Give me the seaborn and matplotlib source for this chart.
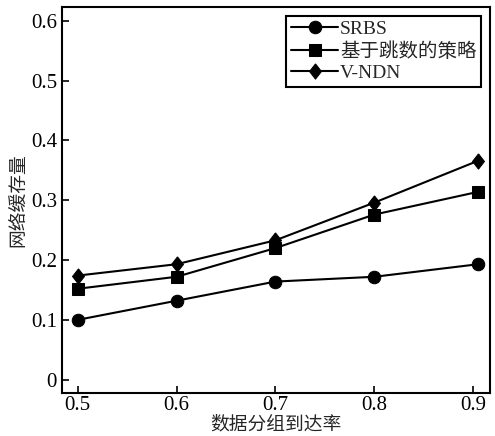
import pandas as pd
import seaborn as sns
import matplotlib.pyplot as plt

# Daten
arrival_rate = [0.5, 0.6, 0.7, 0.8, 0.905]
srbs = [0.100, 0.132, 0.164, 0.172, 0.193]
hop_based = [0.152, 0.172, 0.220, 0.276, 0.314]
v_ndn = [0.174, 0.193, 0.233, 0.296, 0.366]
series_names = ['SRBS', '基于跳数的策略', 'V-NDN']
x_ticks = [0.5, 0.6, 0.7, 0.8, 0.9]
y_ticks = [0, 0.1, 0.2, 0.3, 0.4, 0.5, 0.6]

df = pd.DataFrame({
    'x': arrival_rate * 3,
    'y': srbs + hop_based + v_ndn,
    'series': [n for n in series_names for _ in arrival_rate],
})

sns.set_style('ticks')
plt.rcParams['font.family'] = ['Liberation Serif', 'Noto Sans CJK SC']
plt.rcParams['axes.unicode_minus'] = False

fig = plt.figure(figsize=(4.95, 4.36), dpi=100)
ax = fig.add_axes([0.125, 0.099, 0.865, 0.885])

sns.lineplot(data=df, x='x', y='y', hue='series', style='series',
             palette=['black'] * 3, dashes=False, markers=['o', 's', 'D'],
             markersize=9, linewidth=1.5, markeredgecolor='black', ax=ax)

# Raute etwas hoeher als breit
diamond = [(0, 1), (0.78, 0), (0, -1), (-0.78, 0), (0, 1)]
for line in ax.lines:
    if line.get_marker() == 'D':
        line.set_marker(diamond)
        line.set_markersize(11)

ax.set_xlim(0.484, 0.917)
ax.set_ylim(-0.022, 0.623)
ax.set_xticks(x_ticks)
ax.set_xticklabels(['0.5', '0.6', '0.7', '0.8', '0.9'])
ax.set_yticks(y_ticks)
ax.set_yticklabels(['0', '0.1', '0.2', '0.3', '0.4', '0.5', '0.6'])
ax.tick_params(direction='in', labelsize=15, length=5, width=1.2, colors='black')
ax.tick_params(axis='x', pad=2)
for s in ax.spines.values():
    s.set_linewidth(1.5)
    s.set_color('black')

ax.set_xlabel('数据分组到达率', fontsize=13.5)
ax.set_ylabel('网络缓存量', fontsize=13.5)
ax.xaxis.set_label_coords(0.5, -0.06)
ax.yaxis.set_label_coords(-0.08, 0.5)

leg = ax.legend(loc='upper right', fontsize=14, frameon=True, fancybox=False,
                edgecolor='black', framealpha=1, handlelength=2.4,
                handletextpad=0.1, borderpad=0.25, labelspacing=0.2,
                borderaxespad=0.45)
leg.get_frame().set_linewidth(1.5)
for h in leg.get_lines():
    if h.get_marker() == 'D':
        h.set_marker(diamond)
        h.set_markersize(11)

fig.savefig('out.png', dpi=100)
